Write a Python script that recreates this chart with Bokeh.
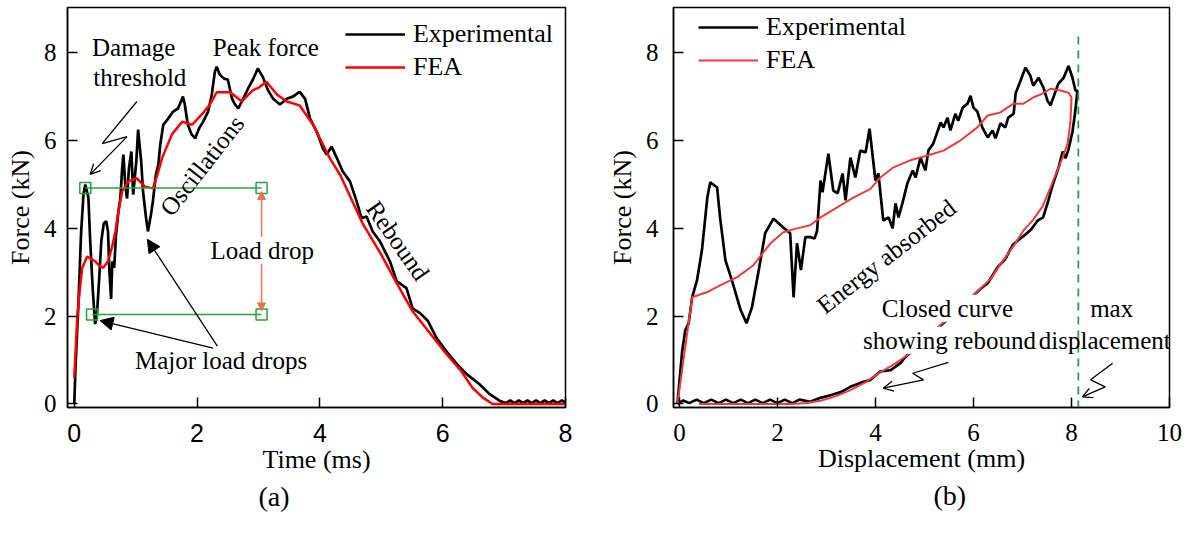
from bokeh.plotting import figure
from bokeh.layouts import row
from bokeh.models import (Legend, LegendItem, Label, Arrow, NormalHead, OpenHead,
                          Title, Range1d, FixedTicker)
from bokeh.embed import file_html
from bokeh.resources import INLINE

# ---------------- data: panel (a) force vs time ----------------
time_exp = [0, 0.02, 0.07, 0.11, 0.15, 0.18, 0.23, 0.26, 0.30, 0.34,
            0.37, 0.41, 0.44, 0.48, 0.52, 0.55, 0.57, 0.60, 0.62, 0.65,
            0.68, 0.72, 0.75, 0.78, 0.80, 0.83, 0.86, 0.89, 0.93, 0.96,
            1.01, 1.04, 1.09, 1.12, 1.17, 1.20, 1.25, 1.28, 1.33, 1.37,
            1.40, 1.45, 1.53, 1.61, 1.69, 1.77, 1.80, 1.85, 1.91, 1.97,
            2.03, 2.10, 2.18, 2.24, 2.29, 2.32, 2.37, 2.44, 2.50, 2.57,
            2.62, 2.67, 2.75, 2.83, 2.91, 2.99, 3.07, 3.15, 3.24, 3.35,
            3.46, 3.56, 3.67, 3.76, 3.84, 3.95, 4.05, 4.11, 4.19, 4.28,
            4.37, 4.49, 4.60, 4.68, 4.76, 4.86, 4.98, 5.14, 5.25, 5.41,
            5.51, 5.63, 5.76, 5.90, 6.06, 6.23, 6.39, 6.60, 6.76, 6.93,
            7.03, 7.10, 7.17, 7.24, 7.31, 7.38, 7.45, 7.52, 7.59, 7.66,
            7.73, 7.80, 7.87, 7.94, 8.0]
force_exp_t = [0, 0.82, 2.34, 3.86, 4.77, 5.0, 4.7, 3.7, 2.64, 1.82,
               2.04, 2.95, 3.7, 4.11, 4.16, 3.93, 3.1, 2.39, 3.25, 3.1,
               3.86, 4.39, 4.68, 5.36, 5.68, 5.0, 4.68, 5.36, 5.75, 4.77,
               5.52, 6.25, 5.52, 4.84, 4.23, 3.93, 4.32, 4.61, 5.23, 5.45,
               5.9, 6.36, 6.5, 6.66, 6.73, 7.0, 6.82, 6.36, 6.14, 6.05,
               6.27, 6.43, 6.66, 7.05, 7.57, 7.68, 7.5, 7.41, 7.39, 6.95,
               6.82, 6.73, 6.95, 7.18, 7.39, 7.64, 7.45, 7.16, 6.95, 6.82,
               6.95, 7.0, 7.11, 6.95, 6.5, 6.2, 5.82, 5.68, 5.86, 5.59,
               5.3, 5.07, 4.61, 4.23, 4.27, 3.93, 3.7, 3.25, 2.8, 2.64,
               2.18, 2.07, 1.89, 1.5, 1.2, 0.91, 0.68, 0.45, 0.23, 0.07,
               0.02, 0.08, 0.02, 0.08, 0.02, 0.08, 0.02, 0.08, 0.02, 0.08,
               0.02, 0.08, 0.02, 0.08, 0.03]

time_fea = [0, 0.05, 0.09, 0.13, 0.21, 0.28, 0.34, 0.41, 0.47, 0.55,
            0.62, 0.67, 0.72, 0.78, 0.88, 1.02, 1.15, 1.28, 1.35, 1.43,
            1.59, 1.76, 1.92, 2.08, 2.2, 2.32, 2.43, 2.54, 2.73, 2.91,
            3.0, 3.13, 3.3, 3.46, 3.67, 3.89, 4.16, 4.33, 4.7, 5.0,
            5.25, 5.51, 6.06, 6.3, 6.49, 6.65, 6.81, 7.0, 8.0]
force_fea_t = [0.6, 2.0, 2.6, 3.1, 3.36, 3.3, 3.25, 3.15, 3.1, 3.25,
               3.6, 3.93, 4.4, 4.84, 5.07, 5.14, 4.95, 4.91, 5.2, 5.6,
               6.14, 6.43, 6.36, 6.6, 6.8, 7.1, 7.1, 7.1, 6.89, 7.15,
               7.2, 7.34, 7.05, 6.89, 6.8, 6.36, 5.6, 5.22, 4.1, 3.4,
               2.75, 2.11, 1.14, 0.75, 0.36, 0.15, 0.0, 0.0, 0.0]

# load-drop markers (time, force)
drop_top_t = [0.18, 3.05]
drop_top_f = [4.92, 4.92]
drop_bot_t = [0.29, 3.05]
drop_bot_f = [2.04, 2.04]

# ---------------- data: panel (b) force vs displacement ----------------
disp_exp = [-0.04, 0.06, 0.12, 0.19, 0.26, 0.36, 0.46, 0.57, 0.63, 0.77,
            0.83, 0.94, 1.07, 1.25, 1.37, 1.48, 1.62, 1.75, 1.92, 2.12,
            2.26, 2.33, 2.40, 2.48, 2.57, 2.67, 2.76, 2.81, 2.88, 2.92,
            3.04, 3.14, 3.23, 3.33, 3.39, 3.49, 3.59, 3.69, 3.80, 3.88,
            4.00, 4.06, 4.16, 4.27, 4.35, 4.41, 4.47, 4.55, 4.65, 4.76,
            4.82, 4.92, 5.02, 5.08, 5.18, 5.33, 5.39, 5.47, 5.53, 5.63,
            5.69, 5.78, 5.88, 5.94, 6.00, 6.08, 6.18, 6.29, 6.39, 6.45,
            6.55, 6.65, 6.71, 6.82, 6.86, 6.96, 7.06, 7.16, 7.22, 7.33,
            7.43, 7.51, 7.57, 7.63, 7.73, 7.84, 7.94, 8.02, 8.08, 8.12,
            8.10, 8.07, 8.02, 7.94, 7.88, 7.82, 7.74, 7.62, 7.52, 7.42,
            7.31, 7.18, 7.05, 6.90, 6.80, 6.65, 6.49, 6.29, 6.14, 5.63,
            5.12, 4.61, 4.51, 4.31, 4.10, 3.90, 3.69, 3.49, 3.29, 3.08,
            2.88, 2.67, 2.45, 2.30, 2.15, 2.00, 1.85, 1.70, 1.55, 1.40,
            1.25, 1.10, 0.95, 0.80, 0.65, 0.50, 0.35, 0.20, 0.08, -0.04]
force_exp_d = [0, 1.23, 1.68, 1.84, 2.43, 2.82, 3.5, 4.7, 5.05, 4.93,
               4.25, 3.27, 2.82, 2.14, 1.84, 2.2, 3.05, 3.89, 4.22, 4.02,
               3.89, 2.43, 3.66, 3.05, 3.8, 3.8, 3.77, 3.95, 5.09, 4.82,
               5.7, 4.86, 4.8, 5.25, 4.64, 5.61, 5.16, 5.77, 5.73, 6.27,
               5.09, 5.25, 4.18, 4.25, 4.0, 4.57, 4.25, 4.57, 5.02, 5.32,
               5.16, 5.61, 5.32, 5.77, 5.93, 6.41, 6.3, 6.52, 6.23, 6.61,
               6.45, 6.75, 6.84, 7.02, 6.75, 6.66, 6.3, 6.07, 6.23, 6.05,
               6.39, 6.3, 6.52, 6.61, 7.07, 7.36, 7.66, 7.48, 7.25, 7.43,
               7.2, 6.91, 6.8, 6.98, 7.29, 7.43, 7.7, 7.43, 7.14, 7.14,
               6.9, 6.6, 6.2, 5.8, 5.6, 5.75, 5.4, 5.0, 4.6, 4.25,
               4.18, 3.98, 3.85, 3.72, 3.62, 3.3, 3.11, 2.75, 2.62, 2.09,
               1.57, 1.07, 0.93, 0.77, 0.74, 0.55, 0.48, 0.39, 0.27, 0.2,
               0.14, 0.05, 0.1, 0.02, 0.1, 0.02, 0.1, 0.02, 0.1, 0.02,
               0.1, 0.02, 0.1, 0.02, 0.1, 0.02, 0.1, 0.02, 0.08, 0.0]

disp_fea = [-0.04, 0.26, 0.57, 0.83, 1.18, 1.51, 1.86, 2.12, 2.40, 2.67,
            2.88, 3.22, 3.55, 3.90, 4.10, 4.37, 4.71, 5.06, 5.39, 5.73,
            6.08, 6.29, 6.55, 6.69, 6.82, 7.02, 7.22, 7.41, 7.57, 7.78,
            7.94, 8.00, 7.98, 7.92, 7.82, 7.71, 7.57, 7.41, 7.22, 7.02,
            6.82, 6.69, 6.50, 6.35, 6.04, 5.33, 4.65, 4.40, 4.10, 3.80,
            3.50, 3.20, 2.90, 2.60, 2.30, 0.40]
force_fea_d = [0, 2.43, 2.55, 2.7, 2.89, 3.16, 3.66, 3.91, 4.0, 4.07,
               4.25, 4.48, 4.7, 4.9, 5.16, 5.39, 5.55, 5.66, 5.77, 6.0,
               6.3, 6.57, 6.64, 6.75, 6.84, 6.84, 6.98, 7.07, 7.18, 7.14,
               7.09, 6.98, 6.45, 5.93, 5.61, 5.32, 4.93, 4.5, 4.2, 3.95,
               3.6, 3.4, 3.1, 2.85, 2.52, 1.8, 1.11, 0.92, 0.72, 0.5,
               0.32, 0.18, 0.08, 0.02, 0.0, 0.0]

max_disp = 8.14

ticks_time = [0, 2, 4, 6, 8]
ticks_disp = [0, 2, 4, 6, 8, 10]
ticks_force = [0, 2, 4, 6, 8]

SERIF = "Liberation Serif"
SANS = "Liberation Sans"
FS = "26px"      # axis titles, legend
FT = "25px"      # tick labels
FA = "25px"      # annotations
RED = "#ff0000"
RED2 = "#f03a3a"
GREEN = "#27a33a"
SALMON = "#e8744f"


def make_fig(width, mbl, mbr, xr, xticks, xlabel, xtick_font, ystandoff):
    p = figure(width=width, height=534, x_range=Range1d(*xr), y_range=Range1d(-0.08, 9.03),
               output_backend="svg", toolbar_location=None,
               min_border_left=mbl, min_border_right=mbr, min_border_top=7,
               min_border_bottom=127, x_axis_label=xlabel, y_axis_label="Force (kN)")
    p.xgrid.visible = False
    p.ygrid.visible = False
    p.outline_line_color = "black"
    p.outline_line_width = 1.5
    p.outline_line_alpha = 1.0
    p.xaxis[0].ticker = FixedTicker(ticks=xticks)
    p.yaxis[0].ticker = FixedTicker(ticks=ticks_force)
    for ax in (p.xaxis[0], p.yaxis[0]):
        ax.major_tick_in = 10
        ax.major_tick_out = 0
        ax.minor_tick_line_color = None
        ax.axis_line_color = "black"
        ax.axis_line_width = 1.5
        ax.major_tick_line_color = "black"
        ax.major_tick_line_width = 1.5
        ax.major_label_text_font_size = FT
        ax.major_label_text_color = "black"
        ax.major_label_text_font = SERIF
        ax.axis_label_text_font = SERIF
        ax.axis_label_text_font_size = FS
        ax.axis_label_text_font_style = "normal"
        ax.axis_label_text_color = "black"
    p.xaxis[0].major_label_text_font = xtick_font
    p.xaxis[0].major_label_standoff = 16
    p.xaxis[0].axis_label_standoff = 0
    p.yaxis[0].major_label_standoff = ystandoff
    p.yaxis[0].axis_label_standoff = 6
    return p


def lab(p, x, y, text, angle=0, align="center", bg=None, size=FA):
    p.add_layout(Label(x=x, y=y, text=text, text_font=SERIF, text_font_size=size,
                       text_color="black", text_align=align, text_baseline="middle",
                       angle=angle, angle_units="deg",
                       background_fill_color=bg, background_fill_alpha=1.0 if bg else 0.0))


# ---------------- panel (a) ----------------
p1 = make_fig(595, 67, 30, (-0.11, 8.0), ticks_time, "Time (ms)", SANS, 11)
r_exp1 = p1.line(time_exp, force_exp_t, line_color="black", line_width=2.7)
r_fea1 = p1.line(time_fea, force_fea_t, line_color=RED, line_width=2.5)

p1.line(drop_top_t, drop_top_f, line_color=GREEN, line_width=1.5)
p1.line(drop_bot_t, drop_bot_f, line_color=GREEN, line_width=1.5)
p1.scatter(drop_top_t + drop_bot_t, drop_top_f + drop_bot_f, marker="square", size=11,
           line_color=GREEN, fill_color=None, line_width=1.5)

p1.add_layout(Arrow(x_start=3.05, y_start=2.12, x_end=3.05, y_end=4.84,
                    line_color=SALMON, line_width=1.5,
                    start=NormalHead(size=8, fill_color=SALMON, line_color=SALMON),
                    end=NormalHead(size=8, fill_color=SALMON, line_color=SALMON)))
lab(p1, 3.06, 3.5, "Load drop", bg="white")

# damage threshold zig-zag arrow
p1.line([1.02, 0.455, 0.86], [6.89, 5.93, 6.09], line_color="black", line_width=1.3)
p1.add_layout(Arrow(x_start=0.86, y_start=6.09, x_end=0.26, y_end=5.23,
                    line_color="black", line_width=1.3,
                    end=OpenHead(size=10, line_color="black", line_width=1.3)))
# major load drops arrows
p1.add_layout(Arrow(x_start=2.26, y_start=1.27, x_end=0.42, y_end=1.9,
                    line_color="black", line_width=1.3,
                    end=NormalHead(size=13, fill_color="black", line_color="black")))
p1.add_layout(Arrow(x_start=2.33, y_start=1.32, x_end=1.19, y_end=3.75,
                    line_color="black", line_width=1.3,
                    end=NormalHead(size=13, fill_color="black", line_color="black")))

lab(p1, 0.29, 8.12, "Damage", align="left")
lab(p1, 0.31, 7.44, "threshold", align="left")
lab(p1, 3.12, 8.12, "Peak force")
lab(p1, 2.08, 5.43, "Oscillations", angle=52)
lab(p1, 2.39, 0.99, "Major load drops")
lab(p1, 5.27, 3.72, "Rebound", angle=-55)

leg1 = Legend(items=[LegendItem(label="Experimental", renderers=[r_exp1]),
                     LegendItem(label="FEA", renderers=[r_fea1])],
              location="top_right", margin=12, padding=0, spacing=3,
              glyph_width=60, glyph_height=20, label_standoff=8,
              label_text_font=SERIF, label_text_font_size=FS, label_text_color="black",
              border_line_color=None, background_fill_alpha=0.0)
p1.add_layout(leg1)
p1.add_layout(Title(text="(a)", align="left", offset=191, text_font=SERIF,
                    text_font_size="28px", text_font_style="normal", text_color="black",
                    standoff=4), "below")

# ---------------- panel (b) ----------------
p2 = make_fig(589, 78, 15, (-0.12, 10.0), ticks_disp, "Displacement (mm)", SERIF, 15)
r_exp2 = p2.line(disp_exp, force_exp_d, line_color="black", line_width=2.7)
r_fea2 = p2.line(disp_fea, force_fea_d, line_color=RED2, line_width=2.0)
p2.line([max_disp, max_disp], [-0.1, 8.45], line_color=GREEN, line_width=1.8, line_dash="8 6")

p2.line([5.49, 4.76, 4.98], [0.95, 0.70, 0.55], line_color="black", line_width=1.3)
p2.add_layout(Arrow(x_start=4.98, y_start=0.55, x_end=4.16, y_end=0.36,
                    line_color="black", line_width=1.3,
                    end=OpenHead(size=10, line_color="black", line_width=1.3)))
p2.line([8.84, 8.39, 8.69], [0.93, 0.55, 0.39], line_color="black", line_width=1.3)
p2.add_layout(Arrow(x_start=8.69, y_start=0.39, x_end=8.22, y_end=0.16,
                    line_color="black", line_width=1.3,
                    end=OpenHead(size=10, line_color="black", line_width=1.3)))

lab(p2, 4.22, 3.36, "Energy absorbed", angle=38)
lab(p2, 5.47, 2.18, "Closed curve", bg="white")
lab(p2, 5.51, 1.45, "showing rebound", bg="white")
lab(p2, 8.82, 2.18, "max")
lab(p2, 8.68, 1.45, "displacement")

leg2 = Legend(items=[LegendItem(label="Experimental", renderers=[r_exp2]),
                     LegendItem(label="FEA", renderers=[r_fea2])],
              location=(25, 332), margin=0, padding=0, spacing=3,
              glyph_width=60, glyph_height=20, label_standoff=8,
              label_text_font=SERIF, label_text_font_size=FS, label_text_color="black",
              border_line_color=None, background_fill_alpha=0.0)
p2.add_layout(leg2)
p2.add_layout(Title(text="(b)", align="left", offset=260, text_font=SERIF,
                    text_font_size="28px", text_font_style="normal", text_color="black",
                    standoff=4), "below")

layout = row(p1, p2)
open("out.html", "w").write(file_html(layout, INLINE))
